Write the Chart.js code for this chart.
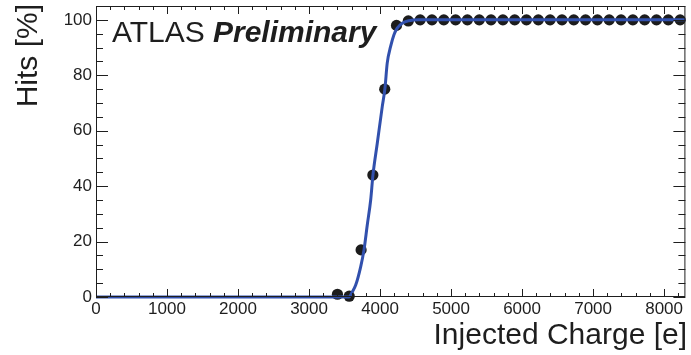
<!DOCTYPE html>
<html>
<head>
<meta charset="utf-8">
<script src="https://cdn.jsdelivr.net/npm/chart.js@4.4.1/dist/chart.umd.min.js"></script>
<style>
  html, body { margin: 0; padding: 0; background: #fff; }
  #wrap { width: 691px; height: 355px; }
</style>
</head>
<body>
<div id="wrap"><canvas id="scurve"></canvas></div>

<script>
  // measured points (injected charge in e, hits in %)
  const charge = [3400, 3566, 3733, 3899, 4066, 4232, 4398, 4565, 4731, 4898,
                  5064, 5230, 5397, 5563, 5730, 5896, 6062, 6229, 6395, 6562,
                  6728, 6894, 7061, 7227, 7394, 7560, 7726, 7893, 8059, 8226];
  const hits = [1, 0.3, 17, 44, 75, 98, 99.6, 100, 100, 100,
                100, 100, 100, 100, 100, 100, 100, 100, 100, 100,
                100, 100, 100, 100, 100, 100, 100, 100, 100, 100];

  // fitted s-curve
  const fitCharge = [0, 3400, 3563, 3610, 3657, 3727, 3774, 3820, 3868, 3900, 3961,
                     4031, 4069, 4101, 4149, 4196, 4242, 4312, 4407, 4547, 8300];
  const fitHits = [0, 0, 0, 1.9, 4.3, 10.9, 17, 26, 35, 44, 55.5,
                   68.7, 75.3, 84.4, 90.4, 94.6, 97, 98.8, 99.7, 100, 100];

  // labelled ticks
  const xTicks = [0, 1000, 2000, 3000, 4000, 5000, 6000, 7000, 8000];
  const yTicks = [0, 20, 40, 60, 80, 100];

  const xMin = 0, xMax = 8300;
  const yMin = 0, yMax = 105;

  const font = "'Liberation Sans', Arial, Helvetica, sans-serif";
  const ink = '#1e1e1e';

  function toPoints(xs, ys) {
    return xs.map(function(x, i) { return { x: x, y: ys[i] }; });
  }

  function noPad(s) {
    s.paddingTop = 0; s.paddingBottom = 0; s.paddingLeft = 0; s.paddingRight = 0;
  }

  // ROOT-like frame with inward ticks and the text labels
  const rootFrame = {
    id: 'rootFrame',
    afterDraw(chart) {
      const ctx = chart.ctx;
      const a = chart.chartArea;
      const xs = chart.scales.x, ys = chart.scales.y;
      ctx.save();
      ctx.strokeStyle = ink;
      ctx.lineWidth = 1;
      ctx.strokeRect(a.left + 0.5, a.top + 0.5, a.right - a.left - 1, a.bottom - a.top - 1);

      ctx.beginPath();
      for (let v = xMin; v <= xMax; v += 200) {
        const px = Math.round(xs.getPixelForValue(v)) + 0.5;
        const len = (v % 1000 === 0) ? 8 : 4;
        ctx.moveTo(px, a.bottom); ctx.lineTo(px, a.bottom - len);
        ctx.moveTo(px, a.top); ctx.lineTo(px, a.top + len);
      }
      for (let v = yMin; v <= yMax; v += 5) {
        const py = Math.round(ys.getPixelForValue(v)) + 0.5;
        const len = (v % 20 === 0) ? 12 : 7;
        ctx.moveTo(a.left, py); ctx.lineTo(a.left + len, py);
        ctx.moveTo(a.right, py); ctx.lineTo(a.right - len, py);
      }
      ctx.stroke();

      ctx.fillStyle = ink;
      ctx.textBaseline = 'alphabetic';
      ctx.font = '30px ' + font;
      ctx.textAlign = 'left';
      ctx.fillText('ATLAS', 112, 42);
      ctx.font = 'italic bold 30px ' + font;
      ctx.fillText('Preliminary', 213, 42);

      ctx.font = '30px ' + font;
      ctx.textAlign = 'right';
      ctx.fillText('Injected Charge [e]', 687, 344);

      ctx.translate(37, 4);
      ctx.rotate(-Math.PI / 2);
      ctx.fillText('Hits [%]', 0, 0);
      ctx.restore();
    }
  };

  const config = {
    type: 'scatter',
    data: {
      datasets: [{
        type: 'line',
        label: 'fit',
        data: toPoints(fitCharge, fitHits),
        borderColor: '#3150ad',
        borderWidth: 3,
        pointRadius: 0,
        cubicInterpolationMode: 'monotone',
        fill: false,
        clip: false,
        order: 0,
      }, {
        label: 'hits',
        data: toPoints(charge, hits),
        backgroundColor: '#1c1c1c',
        borderColor: '#1c1c1c',
        borderWidth: 0,
        pointRadius: 5.6,
        clip: false,
        order: 1,
      }]
    },
    options: {
      responsive: false,
      animation: false,
      events: [],
      layout: { padding: { left: 0, right: 4, top: 6, bottom: 0 } },
      plugins: { legend: { display: false }, tooltip: { enabled: false } },
      scales: {
        x: {
          type: 'linear',
          min: xMin,
          max: xMax,
          grid: { display: false, drawTicks: false },
          border: { display: false },
          ticks: {
            autoSkip: false, padding: 2, color: ink, maxRotation: 0,
            font: { family: font, size: 17 },
            callback: function(v) { return String(v); }
          },
          afterBuildTicks: function(s) { s.ticks = xTicks.map(function(v) { return { value: v }; }); },
          afterFit: function(s) { s.height = 58; noPad(s); },
        },
        y: {
          type: 'linear',
          min: yMin,
          max: yMax,
          grid: { display: false, drawTicks: false },
          border: { display: false },
          ticks: {
            autoSkip: false, padding: 4, color: ink,
            font: { family: font, size: 17 },
            callback: function(v) { return String(v); }
          },
          afterBuildTicks: function(s) { s.ticks = yTicks.map(function(v) { return { value: v }; }); },
          afterFit: function(s) { s.width = 96; noPad(s); },
        }
      }
    },
    plugins: [rootFrame]
  };

  const canvas = document.getElementById('scurve');
  canvas.width = 691;
  canvas.height = 355;
  new Chart(canvas, config);
</script>
</body>
</html>
